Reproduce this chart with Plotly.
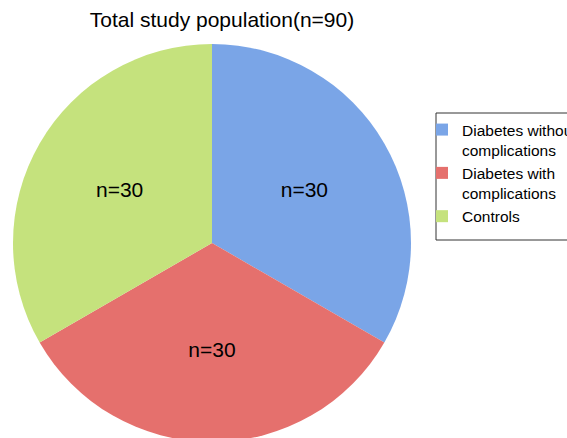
import plotly.graph_objects as go

categories = ["Diabetes without<br>complications", "Diabetes with<br>complications", "Controls"]
values = [30, 30, 30]
text_labels = ["n=30", "n=30", "n=30"]
colors = ["#7AA5E7", "#E5706D", "#C5E27D"]

W, H = 567, 442
top = 44
R = (H - top) / 2
cx = 212
FONT = "Liberation Sans, Arial, sans-serif"

fig = go.Figure(go.Pie(
    labels=categories,
    values=values,
    text=text_labels,
    textinfo="text",
    textposition="inside",
    insidetextorientation="horizontal",
    textfont=dict(size=21, color="black", family=FONT),
    marker=dict(colors=colors, line=dict(width=0)),
    sort=False,
    direction="clockwise",
    rotation=0,
    domain=dict(x=[(cx - R) / W, (cx + R) / W], y=[0, 1]),
    hoverinfo="skip",
))

# legend frame (paper coords over the plot area)
ph = H - top
box_left, box_top, box_bottom = 436, 113, 240
fig.add_shape(type="rect", xref="paper", yref="paper",
              x0=box_left / W, x1=1.2,
              y0=(H - box_bottom) / ph, y1=(H - box_top) / ph,
              line=dict(color="#333333", width=1), fillcolor="rgba(0,0,0,0)")

fig.update_layout(
    width=W, height=H,
    margin=dict(l=0, r=0, t=top, b=0, autoexpand=False),
    paper_bgcolor="white",
    plot_bgcolor="white",
    font=dict(family=FONT, color="black"),
    title=dict(text="Total study population(n=90)", x=222 / W, xanchor="center",
               y=1 - 20 / H, yanchor="middle", yref="container",
               font=dict(size=21, color="black")),
    legend=dict(x=(box_left - 14) / W, xanchor="left", y=(H - box_top) / ph, yanchor="top",
                borderwidth=0, bgcolor="rgba(0,0,0,0)", valign="top",
                font=dict(size=15.5, color="black"), itemwidth=30),
)

fig.write_html(
    "out.html",
    config={"displayModeBar": False},
    post_script="document.body.style.margin='0';document.body.style.overflow='hidden';"
                "document.documentElement.style.overflow='hidden';",
)
